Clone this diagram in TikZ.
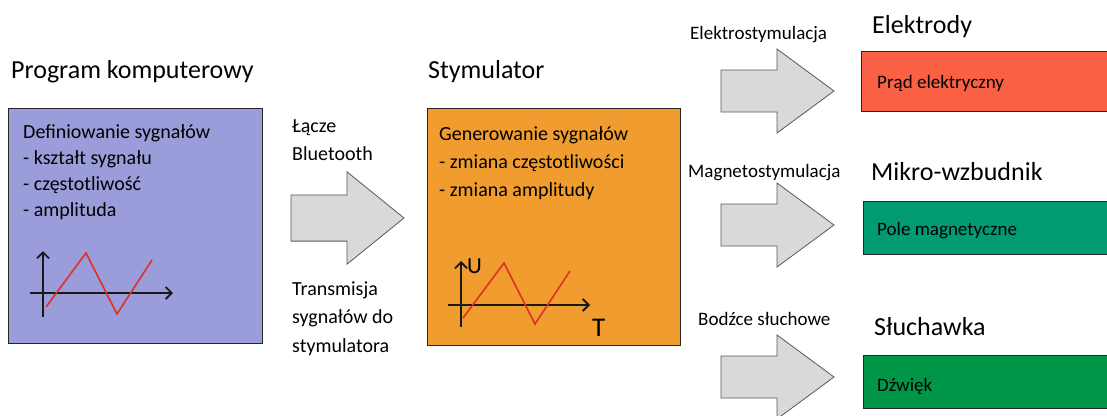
\documentclass[tikz,border=0pt]{standalone}
\usepackage{fontspec}
\setmainfont{Carlito}
\usetikzlibrary{arrows.meta, positioning, calc}

\definecolor{progblue}{RGB}{155,157,219}
\definecolor{stimorange}{RGB}{241,156,46}
\definecolor{elred}{RGB}{250,96,68}
\definecolor{maggreen}{RGB}{0,155,112}
\definecolor{sndgreen}{RGB}{0,150,72}
\definecolor{arrgray}{RGB}{217,217,217}
\definecolor{sigred}{RGB}{222,48,40}

\begin{document}
\begin{tikzpicture}[
    x=1pt, y=-1pt,
    >={Straight Barb[length=6pt,width=12pt]},
    box/.style      ={draw=black!85, line width=1.3pt, anchor=north west, inner sep=0pt},
    title/.style    ={font=\fontsize{26}{30}\selectfont, anchor=base west, inner sep=0pt},
    body/.style     ={font=\fontsize{20}{24}\selectfont, anchor=base west, inner sep=0pt},
    lbl/.style      ={font=\fontsize{19}{23}\selectfont, anchor=base west, inner sep=0pt},
    axis/.style     ={->, line width=1.8pt, draw=black!90},
    sig/.style      ={line width=1.6pt, draw=sigred, line join=miter},
    arrowbody/.style={fill=arrgray, draw=black!65, line width=0.8pt, line join=miter},
    blockarrow/.pic ={\draw[arrowbody] (0,-21)--(56,-21)--(56,-42)--(113,0)--(56,42)--(56,21)--(0,21)--cycle;}
  ]
  \useasboundingbox (0,0) rectangle (1107,415);

  % computer program
  \node[title] (progtitle) at (11,78) {Program komputerowy};
  \node[box, fill=progblue, minimum width=254pt, minimum height=235pt] (prog) at (8,108) {};
  \foreach \t [count=\i from 0] in {Definiowanie sygnałów, - kształt sygnału, - częstotliwość, - amplituda}
    \node[body] (progl\i) at (23,{138+26*\i}) {\t};
  \coordinate (po) at (43,293);
  \draw[axis] ($(po)+(0,24)$) -- ($(po)+(0,-42)$);
  \draw[axis] ($(po)+(-13,0)$) -- ($(po)+(130,0)$);
  \draw[sig] (46,307) -- (86,253) -- (117,314) -- (152,260);

  % bluetooth link
  \node[body] (bt1) at (292,132) {Łącze};
  \node[body] (bt2) at (292,160) {Bluetooth};
  \pic[yscale=1.1] at (291,218) {blockarrow};
  \node[body] (tr1) at (292,295) {Transmisja};
  \node[body] (tr2) at (292,323) {sygnałów do};
  \node[body] (tr3) at (292,352) {stymulatora};

  % stimulator
  \node[title] (stimtitle) at (428,78) {Stymulator};
  \node[box, fill=stimorange, minimum width=253pt, minimum height=237pt] (stim) at (427,108) {};
  \foreach \t [count=\i from 0] in {Generowanie sygnałów, - zmiana częstotliwości, - zmiana amplitudy}
    \node[body] (stiml\i) at (439,{140+28*\i}) {\t};
  \coordinate (so) at (461,305);
  \draw[axis] ($(so)+(0,22)$) -- ($(so)+(0,-44)$);
  \draw[axis] ($(so)+(-13,0)$) -- ($(so)+(129,0)$);
  \draw[sig] (463,318) -- (504,263) -- (535,324) -- (570,271);
  \node[font=\fontsize{23}{26}\selectfont, anchor=base west, inner sep=0pt] (ulbl) at (467,273) {U};
  \node[font=\fontsize{27}{30}\selectfont, anchor=base west, inner sep=0pt] (tlbl) at (592,336) {T};

  % outputs
  \foreach \y in {91,225,377}
    \pic at (721,\y) {blockarrow};
  \node[lbl] (elstim)  at (690,39)  {Elektrostymulacja};
  \node[lbl] (magstim) at (688,177) {Magnetostymulacja};
  \node[lbl] (sndstim) at (698,325) {Bodźce słuchowe};

  \node[title] (eltitle)  at (872,33)  {Elektrody};
  \node[title] (magtitle) at (871,180) {Mikro-wzbudnik};
  \node[title] (sndtitle) at (874,335) {Słuchawka};

  \node[box, fill=elred, minimum width=260pt, minimum height=60pt] (elbox) at (861,51) {};
  \node[box, fill=maggreen, minimum width=260pt, minimum height=53pt] (magbox) at (863,201) {};
  \node[box, fill=sndgreen, minimum width=260pt, minimum height=53pt] (sndbox) at (863,355) {};
  \node[lbl] (eltxt)  at (877,88)  {Prąd elektryczny};
  \node[lbl] (magtxt) at (877,235) {Pole magnetyczne};
  \node[lbl] (sndtxt) at (877,391) {Dźwięk};
\end{tikzpicture}
\end{document}
